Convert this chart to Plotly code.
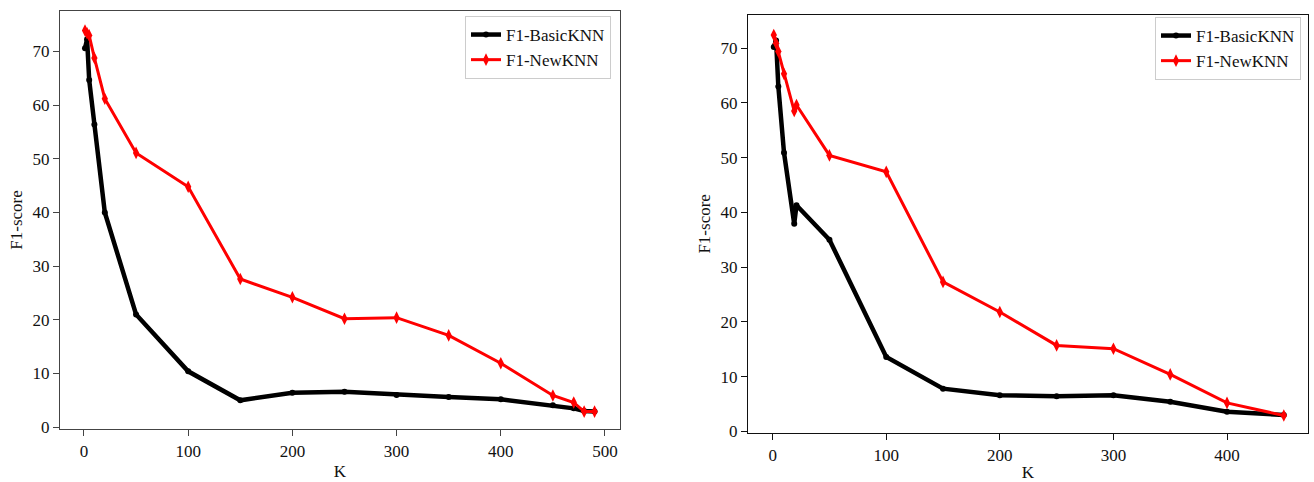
import plotly.graph_objects as go

# Left panel data
k_left = [1, 3, 5, 10, 20, 50, 100, 150, 200, 250, 300, 350, 400, 450, 470, 480, 490]
basic_left = [70.6, 72.3, 64.7, 56.4, 40.0, 21.0, 10.4, 5.0, 6.4, 6.6, 6.0, 5.6, 5.2, 4.1, 3.5, 3.0, 2.9]
new_left = [73.9, 73.4, 73.0, 68.8, 61.2, 51.1, 44.8, 27.6, 24.2, 20.2, 20.4, 17.1, 11.9, 5.9, 4.6, 2.9, 2.9]

# Right panel data
k_right = [1, 3, 5, 10, 19, 21, 50, 100, 150, 200, 250, 300, 350, 400, 450]
basic_right = [70.2, 71.4, 63.0, 50.9, 37.9, 41.3, 35.0, 13.6, 7.8, 6.6, 6.4, 6.6, 5.4, 3.6, 3.0]
new_right = [72.4, 70.9, 69.4, 65.3, 58.5, 59.6, 50.4, 47.4, 27.3, 21.8, 15.7, 15.1, 10.4, 5.2, 2.9]

y_ticks = [0, 10, 20, 30, 40, 50, 60, 70]
x_ticks_left = [0, 100, 200, 300, 400, 500]
x_ticks_right = [0, 100, 200, 300, 400]

FONT = "Liberation Serif"
W, H = 1314, 482

fig = go.Figure()

def add_pair(k, basic, new, xa, ya, leg):
    fig.add_trace(go.Scatter(
        x=k, y=basic, mode="lines+markers", name="F1-BasicKNN",
        line=dict(color="black", width=4.5),
        marker=dict(color="black", size=6, symbol="circle"),
        xaxis=xa, yaxis=ya, legend=leg))
    fig.add_trace(go.Scatter(
        x=k, y=new, mode="lines+markers", name="F1-NewKNN",
        line=dict(color="#ff0000", width=3),
        marker=dict(color="#ff0000", size=9, symbol="diamond-tall"),
        xaxis=xa, yaxis=ya, legend=leg))

add_pair(k_left, basic_left, new_left, "x", "y", "legend")
add_pair(k_right, basic_right, new_right, "x2", "y2", "legend2")

def axis_common(color):
    return dict(
        showgrid=False, zeroline=False, showline=True, mirror=True,
        linecolor=color, linewidth=1.3, ticks="outside", ticklen=6,
        tickwidth=1.2, tickcolor=color, automargin=False,
        tickfont=dict(family=FONT, size=17, color="#111"),
    )

title_font = dict(family=FONT, size=17, color="#111")

fig.update_layout(
    width=W, height=H,
    margin=dict(l=0, r=0, t=0, b=0, autoexpand=False),
    paper_bgcolor="white", plot_bgcolor="white",
    font=dict(family=FONT, size=17, color="#111"),
    xaxis=dict(**axis_common("#444"), domain=[60 / W, 620 / W], range=[-23, 514.4],
               tickvals=x_ticks_left, anchor="y",
               title=dict(text="K", font=title_font, standoff=5)),
    yaxis=dict(**axis_common("#444"), domain=[1 - 429.3 / H, 1 - 10.7 / H], range=[-0.4, 77.6],
               tickvals=y_ticks, anchor="x",
               title=dict(text="F1-score", font=title_font, standoff=5)),
    xaxis2=dict(**axis_common("#111"), domain=[748 / W, 1308 / W], range=[-21.7, 471.3],
                tickvals=x_ticks_right, anchor="y2",
                title=dict(text="K", font=title_font, standoff=5)),
    yaxis2=dict(**axis_common("#111"), domain=[1 - 433 / H, 1 - 14.7 / H], range=[-0.3, 76.1],
                tickvals=y_ticks, anchor="x2",
                title=dict(text="F1-score", font=title_font, standoff=5)),
    legend=dict(x=611 / W, y=1 - 16 / H, xanchor="right", yanchor="top",
                bgcolor="white", bordercolor="#cccccc", borderwidth=1,
                font=dict(family=FONT, size=17), tracegroupgap=0),
    legend2=dict(x=1301 / W, y=1 - 17 / H, xanchor="right", yanchor="top",
                 bgcolor="white", bordercolor="#cccccc", borderwidth=1,
                 font=dict(family=FONT, size=17), tracegroupgap=0),
    showlegend=True,
)

fig.write_html("out.html", config={"displayModeBar": False},
               post_script="document.body.style.margin='0';document.body.style.overflow='hidden';")
